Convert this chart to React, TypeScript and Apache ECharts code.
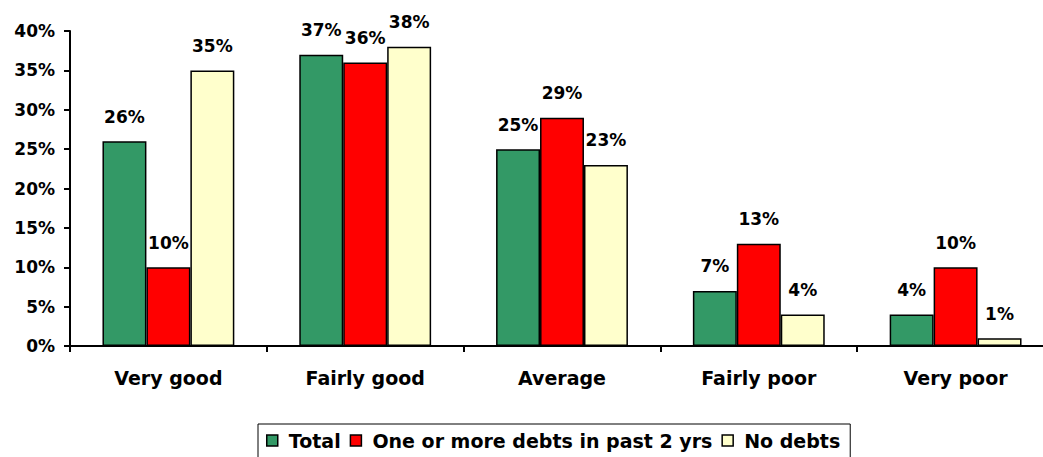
import React, { useEffect, useRef } from "react";
import * as echarts from "echarts";

const categories = ["Very good", "Fairly good", "Average", "Fairly poor", "Very poor"];
const seriesNames = ["Total", "One or more debts in past 2 yrs", "No debts"];
const totalValues = [26, 37, 25, 7, 4];
const debtValues = [10, 36, 29, 13, 10];
const noDebtValues = [35, 38, 23, 4, 1];
const seriesColors = ["#339966", "#FF0000", "#FFFFCC"];

const FONT = "'DejaVu Sans', sans-serif";

export default function App() {
  const ref = useRef<HTMLDivElement>(null);
  useEffect(() => {
    if (!ref.current) return;
    const chart = echarts.init(ref.current, undefined, { renderer: "svg" });
    const values = [totalValues, debtValues, noDebtValues];
    chart.setOption({
      animation: false,
      backgroundColor: "#ffffff",
      grid: { left: 70, top: 31, bottom: 111, right: 0, containLabel: false },
      legend: {
        data: seriesNames,
        top: 424,
        left: 258,
        itemWidth: 11,
        itemHeight: 11,
        itemGap: 9,
        borderColor: "#000",
        borderWidth: 1,
        padding: [7, 10, 10, 8],
        icon: "rect",
        itemStyle: { borderColor: "#000", borderWidth: 1.5 },
        textStyle: { fontFamily: FONT, fontWeight: "bold", fontSize: 19, color: "#000", padding: [0, 0, 0, 6] },
      },
      xAxis: {
        type: "category",
        data: categories,
        axisLine: { lineStyle: { color: "#000", width: 2 } },
        axisTick: { show: true, length: 6, lineStyle: { color: "#000", width: 2 } },
        axisLabel: { fontFamily: FONT, fontWeight: "bold", fontSize: 19, color: "#000", margin: 22 },
      },
      yAxis: {
        type: "value",
        min: 0,
        max: 40,
        interval: 5,
        splitLine: { show: false },
        axisLine: { show: true, lineStyle: { color: "#000", width: 2 } },
        axisTick: { show: true, length: 6, lineStyle: { color: "#000", width: 2 } },
        axisLabel: { formatter: "{value}%", fontFamily: FONT, fontWeight: "bold", fontSize: 17, color: "#000", margin: 15 },
      },
      series: seriesNames.map((name, i) => ({
        name,
        type: "bar",
        data: values[i],
        barGap: "0%",
        barCategoryGap: "33%",
        itemStyle: { color: seriesColors[i], borderColor: "#000", borderWidth: 1.5 },
        label: {
          show: true,
          position: "top",
          distance: 16,
          formatter: "{c}%",
          fontFamily: FONT,
          fontWeight: "bold",
          fontSize: 17,
          color: "#000",
        },
      })),
    });
    return () => chart.dispose();
  }, []);
  return (
    <div style={{ position: "absolute", left: 0, top: 0, width: 1043, height: 457, overflow: "hidden" }}>
      <div ref={ref} style={{ width: 1054, height: 457 }} />
    </div>
  );
}
